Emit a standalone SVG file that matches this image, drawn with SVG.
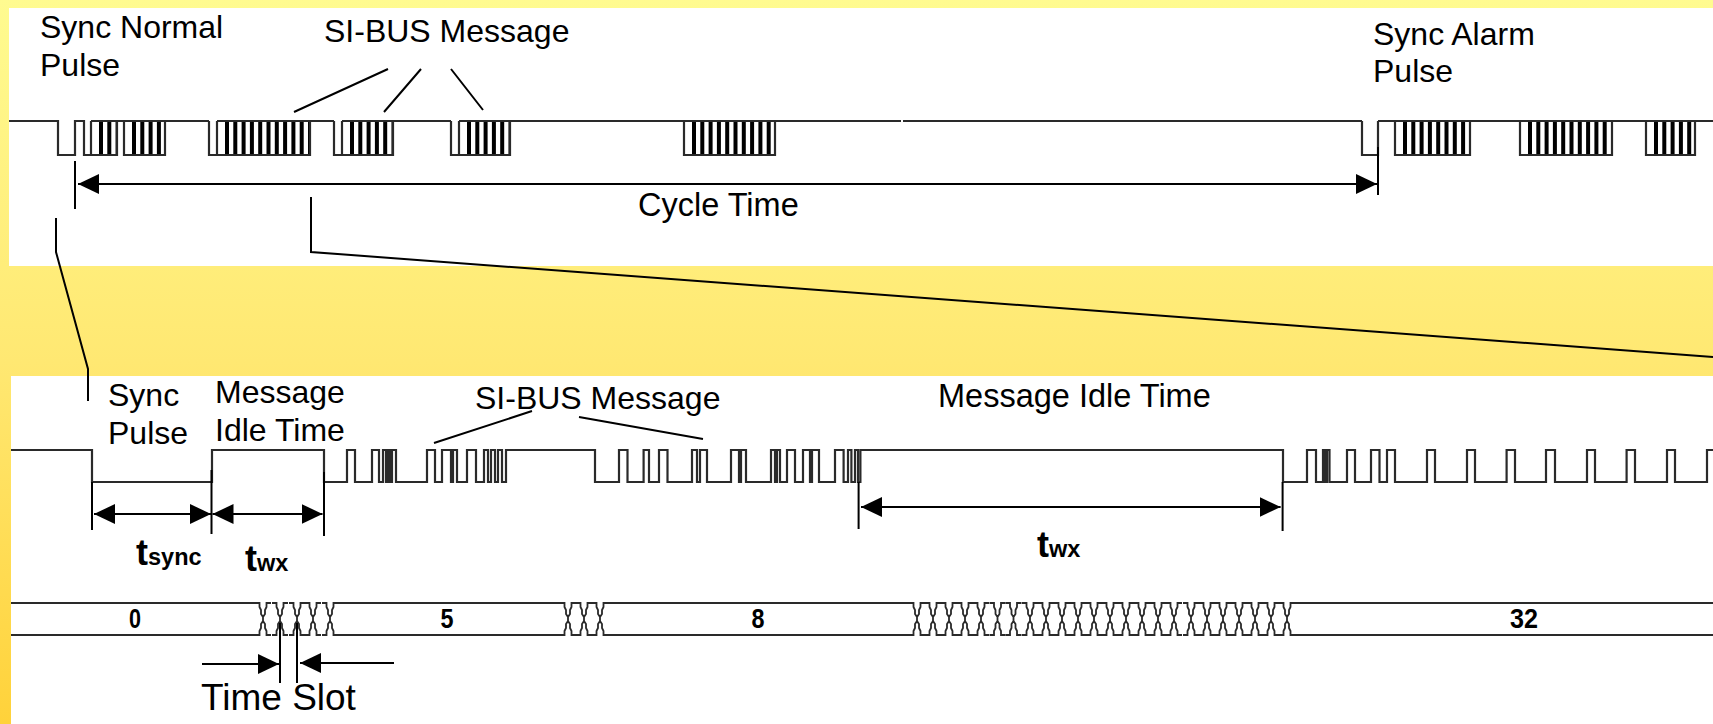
<svg xmlns="http://www.w3.org/2000/svg" width="1713" height="724" viewBox="0 0 1713 724">
<style>
text{font-family:"Liberation Sans",Arial,sans-serif;fill:#000;font-size:32px}
.l{font-size:32.5px}
.b{font-weight:bold;font-size:36px}
.b tspan{font-size:23.5px}
.d{font-weight:bold;font-size:27px;text-anchor:middle}
.w{fill:none;stroke:#2a2a2a;stroke-width:2.2}
.bars{fill:none;stroke:#000;stroke-width:34;stroke-dasharray:4 4.3}
.c{fill:none;stroke:#000;stroke-width:2}
.x{fill:none;stroke:#2a2a2a;stroke-width:1.8}
</style>
<defs>
<linearGradient id="bg" x1="0" y1="0" x2="0" y2="1"><stop offset="0" stop-color="#FFFB90"/><stop offset="0.5" stop-color="#FFE872"/><stop offset="1" stop-color="#FFD23A"/></linearGradient>
<marker id="ah" markerUnits="userSpaceOnUse" markerWidth="21" markerHeight="22" refX="21" refY="11" orient="auto-start-reverse"><path d="M0 1L21 11L0 21Z" fill="#000"/></marker>
<path id="cross" class="x" d="M-8-16H-3.5V-12L-2-9V-5L0-2V2L2 5V9L3.5 12V16H8M8-16H3.5V-12L2-9V-5L0-2M0 2L-2 5V9L-3.5 12V16H-8"/>
</defs>
<rect id="background" width="1713" height="724" fill="url(#bg)"/>
<rect id="panel-top" x="9" y="8" width="1704" height="258" fill="#fff"/>
<rect id="panel-bottom" x="11" y="376" width="1702" height="348" fill="#fff"/>

<g id="wave-top">
<path class="bars" d="M99 138H117M132 138H165M225 138H310M350 138H393M467 138H510M692 138H775M1403 138H1470M1528 138H1612M1654 138H1695"/>
<path class="w" d="M9 121H58V155H75V121H84V155H117V121M124 121V155H165V121M209 121V155H310V121M334 121V155H393V121M451 121V155H510V121M684 121V155H775V121M1362 121V155H1378V121M1395 121V155H1470V121M1520 121V155H1612V121M1646 121V155H1695V121M91 121V155M217 121V155M342 121V155M459 121V155"/>
<path class="w" d="M91 121H209M217 121H334M342 121H451M459 121H901M903 121H1362M1378 121H1713"/>
</g>

<g id="wave-bottom">
<path class="w" d="M11 450H92V482H212V450H324V482H347V450H355V482H372V450H379V482H383V450H386V482H388V450H390V482H392V450H396V482H427V450H435V482H442V450H451V482H453V450H457V482H467V450H476V482H484V450H488V482H491V450H495V482H498V450H502V482H506V450H595V482H619V450H627.5V482H643.6V450H649V482H659V450H667.5V482H692V450H697V482H700V450H707V482H731V450H739V482H741V450H746V482H771V450H775V482H777V450H780V482H787V450H795V482H803V450H810V482H812V450H819V482H835V450H843.6V482H848V450H851.4V482H855V450H858V482H860.4V450H1283V482H1307V450H1316V482H1323V450H1325V482H1327V450H1329.5V482H1347V450H1355V482H1371V450H1379.5V482H1387V450H1395V482H1427V450H1435V482H1467V450H1475V482H1506.6V450H1515V482H1546V450H1555V482H1587V450H1595V482H1626.6V450H1635V482H1667V450H1675V482H1707V450H1713"/>
</g>

<g id="bus">
<path class="w" d="M11 603H257M11 635H257M336 603H562M336 635H562M606 603H911M606 635H911M1293 603H1713M1293 635H1713"/>
<use href="#cross" x="263" y="619"/><use href="#cross" x="280" y="619"/><use href="#cross" x="297" y="619"/><use href="#cross" x="313" y="619"/><use href="#cross" x="330" y="619"/>
<use href="#cross" x="568" y="619"/><use href="#cross" x="584" y="619"/><use href="#cross" x="600" y="619"/>
<use href="#cross" x="917" y="619"/><use href="#cross" x="933" y="619"/><use href="#cross" x="949" y="619"/><use href="#cross" x="965" y="619"/><use href="#cross" x="981" y="619"/><use href="#cross" x="997.5" y="619"/><use href="#cross" x="1013.5" y="619"/><use href="#cross" x="1030" y="619"/><use href="#cross" x="1046" y="619"/><use href="#cross" x="1062" y="619"/><use href="#cross" x="1078" y="619"/><use href="#cross" x="1094" y="619"/><use href="#cross" x="1110" y="619"/><use href="#cross" x="1126" y="619"/><use href="#cross" x="1142" y="619"/><use href="#cross" x="1158" y="619"/><use href="#cross" x="1174" y="619"/><use href="#cross" x="1191" y="619"/><use href="#cross" x="1207" y="619"/><use href="#cross" x="1223" y="619"/><use href="#cross" x="1239" y="619"/><use href="#cross" x="1255" y="619"/><use href="#cross" x="1271" y="619"/><use href="#cross" x="1287" y="619"/>
<text class="d" x="135" y="628" textLength="12" lengthAdjust="spacingAndGlyphs">0</text>
<text class="d" x="447" y="628" textLength="13" lengthAdjust="spacingAndGlyphs">5</text>
<text class="d" x="758" y="628" textLength="13" lengthAdjust="spacingAndGlyphs">8</text>
<text class="d" x="1524" y="628" textLength="28" lengthAdjust="spacingAndGlyphs">32</text>
</g>

<g id="connectors">
<path class="c" d="M75 161V209M1378 147V195M311 197V252L1713 357M56 218V252L88 369V401"/>
<path class="c" d="M294 112L388 69M384 112L421 69M483 110L451 69"/>
<path class="c" d="M78 184H1377" marker-start="url(#ah)" marker-end="url(#ah)"/>
<path class="c" d="M434 443L532 411M579 417L703 439"/>
<path class="c" d="M92 482V530M211.5 470V534M324 472V536M858.6 482V529M1282.6 482V531"/>
<path class="c" d="M94 514H211" marker-start="url(#ah)" marker-end="url(#ah)"/>
<path class="c" d="M212.5 514H322.5" marker-start="url(#ah)" marker-end="url(#ah)"/>
<path class="c" d="M861 507H1280.6" marker-start="url(#ah)" marker-end="url(#ah)"/>
<path class="c" d="M280 623V683M297 623V683"/>
<path class="c" d="M202 664H279" marker-end="url(#ah)"/>
<path class="c" d="M394 663H300" marker-end="url(#ah)"/>
</g>

<g id="label-sync-normal"><text x="40" y="38">Sync Normal</text><text x="40" y="76">Pulse</text></g>
<g id="label-si-bus-top"><text x="324" y="42">SI-BUS Message</text></g>
<g id="label-sync-alarm"><text x="1373" y="45">Sync Alarm</text><text x="1373" y="82">Pulse</text></g>
<g id="label-cycle"><text class="l" x="638" y="216">Cycle Time</text></g>
<g id="label-sync-pulse"><text x="108" y="406">Sync</text><text x="108" y="444">Pulse</text></g>
<g id="label-msg-idle"><text x="215" y="403">Message</text><text x="215" y="441">Idle Time</text></g>
<g id="label-si-bus-bottom"><text x="475" y="409">SI-BUS Message</text></g>
<g id="label-msg-idle-2"><text class="l" x="938" y="407">Message Idle Time</text></g>
<g id="label-tsync"><text class="b" x="136" y="565">t<tspan>sync</tspan></text></g>
<g id="label-twx-1"><text class="b" x="245" y="571">t<tspan>wx</tspan></text></g>
<g id="label-twx-2"><text class="b" x="1037" y="557">t<tspan>wx</tspan></text></g>
<g id="label-time-slot"><text x="201" y="710" style="font-size:37px">Time Slot</text></g>
</svg>
